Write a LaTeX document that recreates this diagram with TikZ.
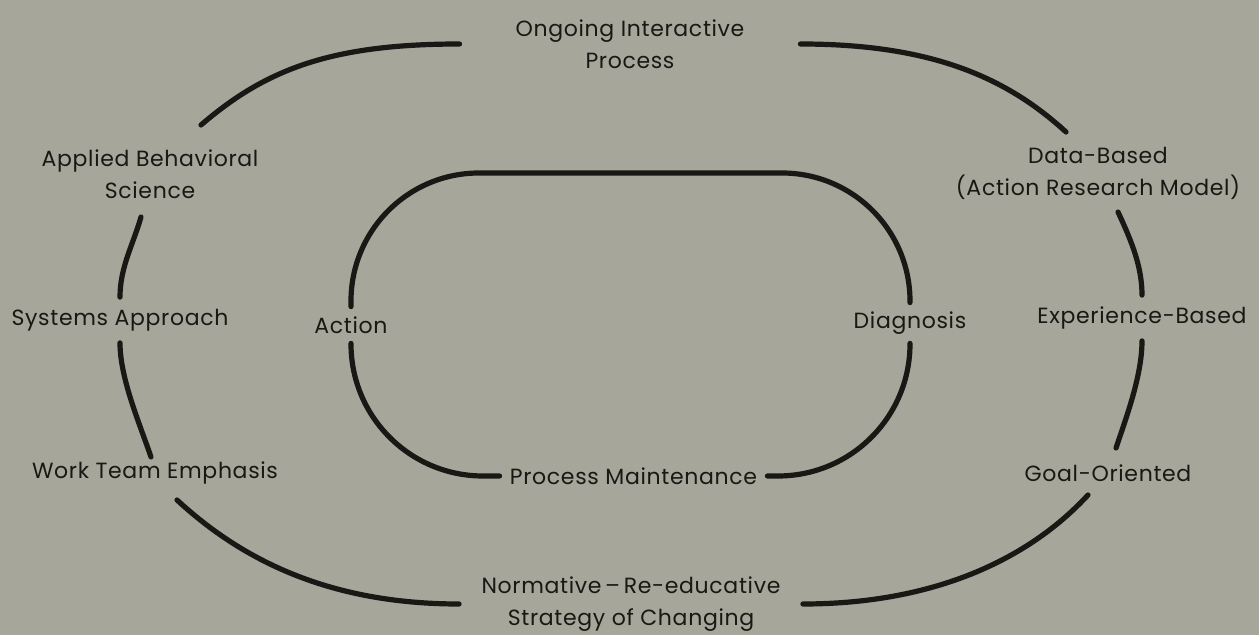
\documentclass[tikz,border=0pt]{standalone}
\usepackage{fontspec}
\setmainfont[LetterSpace=3]{Poppins}
\usepackage{tikz}
\usetikzlibrary{shapes,arrows}
\definecolor{paper}{RGB}{166,166,154}
\definecolor{ink}{RGB}{24,24,20}
\tikzstyle{term} = [align=center, text=ink, font=\fontsize{11}{16}\selectfont, inner sep=0pt]
\tikzstyle{link} = [draw=ink, line width=2.6pt, line cap=round]

\begin{document}
\begin{tikzpicture}[x=0.5pt, y=0.5pt]
\fill [paper] (0,0) rectangle (1259,-635);

% outer ring
\node (ongoing) [term, minimum width=170pt] at (630,-44) {Ongoing Interactive\\Process};
\node (applied) [term] at (150,-174) {Applied Behavioral\\Science};
\node (systems) [term, minimum height=22.5pt] at (120,-320) {Systems Approach};
\node (workteam) [term] at (155,-473) {Work Team Emphasis};
\node (normative) [term, minimum width=171.5pt] at (631,-604) {Normative\,–\,Re-educative\\Strategy of Changing};
\node (goal) [term] at (1108,-473) {Goal-Oriented};
\node (experience) [term, minimum height=22.5pt] at (1142,-318) {Experience-Based};
\node (databased) [term] at (1098,-173) {Data-Based\\(Action Research Model)};

% inner ring
\node (action) [term, minimum height=18pt] at (351,-325) {Action};
\node (diagnosis) [term, minimum height=20pt] at (910,-323) {Diagnosis};
\node (maintenance) [term, minimum width=133.5pt] at (633.5,-476) {Process Maintenance};
\coordinate (top) at (0,-173);

\draw [link] ([shift={(51,49)}]applied.center) .. controls +(64,55) and +(-130,0) .. (ongoing.west);
\draw [link] (ongoing.east) .. controls +(130,0) and +(-60,55) .. ([shift={(-32,41)}]databased.center);
\draw [link] ([shift={(20,-39)}]databased.center) .. controls +(14,-30) and +(0,28) .. (experience.north);
\draw [link] (experience.south) .. controls +(0,-35) and +(10,30) .. ([shift={(8,25)}]goal.center);
\draw [link] ([shift={(-20,-22)}]goal.center) .. controls +(-60,-65) and +(130,0) .. (normative.east);
\draw [link] (normative.west) .. controls +(-130,0) and +(65,-60) .. ([shift={(22,-27)}]workteam.center);
\draw [link] ([shift={(-4,16)}]workteam.center) .. controls +(-12,35) and +(0,-35) .. (systems.south);
\draw [link] (systems.north) .. controls +(0,30) and +(-8,-28) .. ([shift={(-9,-43)}]applied.center);

\draw [link, rounded corners=64pt] (action.north) -- (action.north |- top) -- (diagnosis.north |- top) -- (diagnosis.north);
\draw [link, rounded corners=66pt] (action.south) |- (maintenance.west);
\draw [link, rounded corners=66pt] (maintenance.east) -| (diagnosis.south);
\end{tikzpicture}
\end{document}
